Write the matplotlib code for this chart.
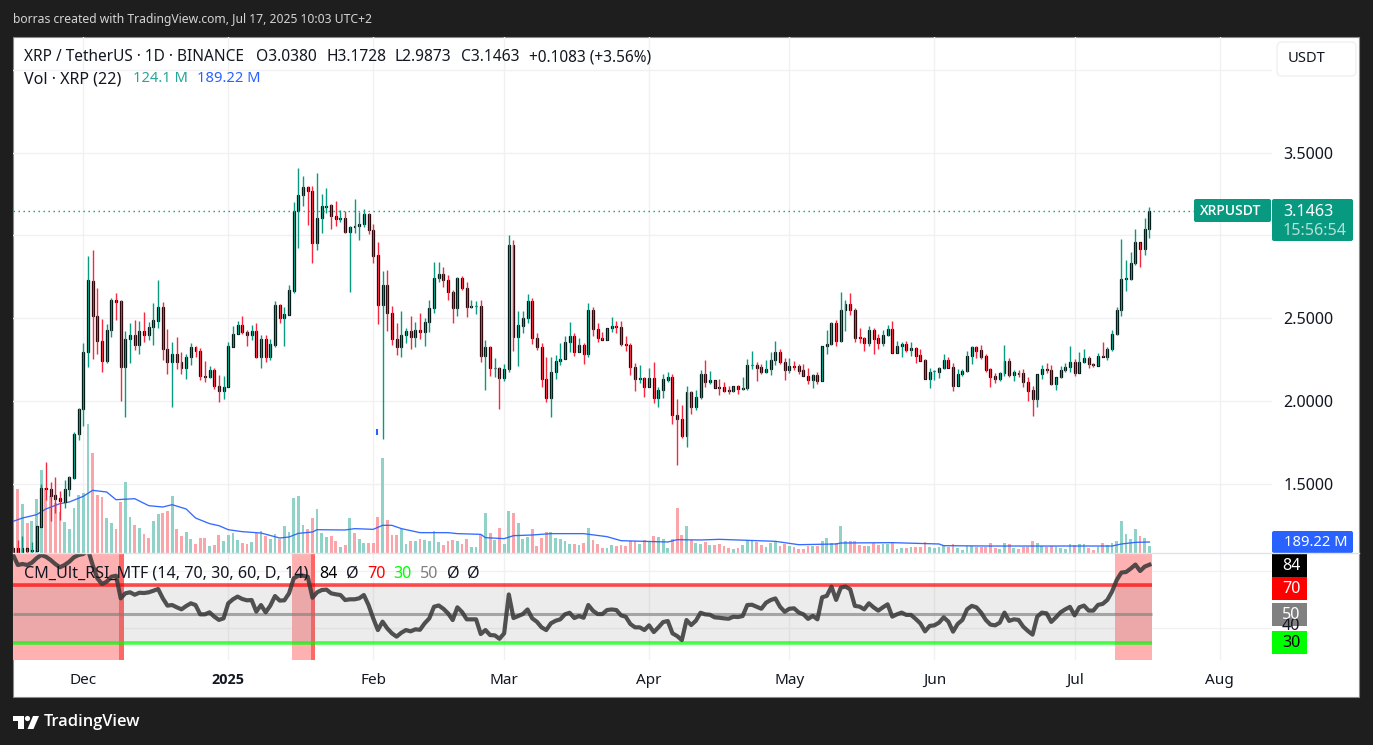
import matplotlib
matplotlib.use("Agg")
import matplotlib.pyplot as plt
import matplotlib.dates as mdates
from matplotlib.patches import Rectangle, FancyBboxPatch, Polygon, Circle
import numpy as np
import pandas as pd

# daily bars, one line per month
dates = pd.date_range("2024-11-16", "2025-07-17", freq="D")

opens = [
    1.118,1.118,1.087,1.114,1.099,1.099,1.244,1.475,1.469,1.433,1.415,1.395,1.469,1.540,1.801,
    1.952,2.295,2.723,2.512,2.361,2.245,2.428,2.608,2.602,2.209,2.373,2.398,2.337,2.422,2.402,2.446,2.486,2.566,2.313,2.239,2.283,2.239,2.203,2.265,2.325,2.301,2.155,2.149,2.189,2.094,2.060,
    2.084,2.329,2.404,2.458,2.420,2.402,2.422,2.269,2.373,2.269,2.341,2.578,2.504,2.522,2.667,3.145,3.245,3.295,3.271,2.956,3.108,3.173,3.181,3.120,3.102,3.108,3.022,3.054,3.058,3.072,3.127,
    3.036,2.880,2.582,2.699,2.530,2.378,2.325,2.398,2.422,2.390,2.428,2.416,2.476,2.560,2.741,2.765,2.729,2.661,2.564,2.741,2.685,2.570,2.572,2.574,2.275,2.325,2.199,2.199,
    2.143,2.193,2.940,2.390,2.456,2.500,2.602,2.384,2.325,2.137,2.022,2.175,2.241,2.253,2.355,2.392,2.295,2.337,2.287,2.548,2.438,2.380,2.372,2.440,2.452,2.450,2.347,2.341,2.209,2.137,2.139,
    2.088,2.139,2.022,2.068,2.131,2.145,1.920,1.896,1.793,2.054,1.968,2.024,2.163,2.118,2.127,2.086,2.084,2.066,2.060,2.090,2.076,2.080,2.217,2.217,2.205,2.179,2.193,2.249,2.295,2.239,
    2.191,2.211,2.211,2.187,2.155,2.131,2.157,2.124,2.333,2.343,2.472,2.365,2.548,2.584,2.552,2.386,2.380,2.353,2.428,2.380,2.353,2.398,2.434,2.293,2.331,2.343,2.311,2.319,2.277,2.247,2.137,
    2.181,2.179,2.199,2.247,2.205,2.094,2.163,2.181,2.271,2.327,2.307,2.271,2.193,2.151,2.137,2.169,2.241,2.161,2.169,2.169,2.118,2.066,2.016,2.163,2.193,2.187,2.106,2.145,2.187,2.205,
    2.235,2.173,2.235,2.259,2.223,2.215,2.271,2.269,2.313,2.404,2.548,2.735,2.739,2.837,2.958,2.920,3.038,
]
highs = [
    1.124,1.164,1.188,1.114,1.152,1.250,1.501,1.634,1.514,1.542,1.461,1.526,1.550,1.817,1.960,
    2.353,2.875,2.912,2.683,2.496,2.466,2.620,2.653,2.610,2.424,2.472,2.490,2.484,2.538,2.478,2.592,2.731,2.598,2.436,2.357,2.388,2.297,2.285,2.351,2.331,2.321,2.243,2.213,2.201,2.159,2.153,
    2.357,2.454,2.484,2.514,2.428,2.460,2.472,2.400,2.400,2.373,2.604,2.586,2.570,2.701,3.201,3.406,3.357,3.297,3.297,3.375,3.249,3.289,3.189,3.207,3.153,3.145,3.060,3.217,3.143,3.157,3.133,
    3.072,2.960,2.785,2.791,2.574,2.474,2.544,2.442,2.514,2.478,2.530,2.500,2.610,2.839,2.839,2.809,2.759,2.671,2.751,2.755,2.719,2.610,2.604,2.610,2.369,2.333,2.261,2.205,
    2.223,3.002,2.972,2.544,2.544,2.647,2.624,2.412,2.349,2.267,2.269,2.279,2.353,2.394,2.478,2.410,2.382,2.349,2.590,2.568,2.470,2.420,2.442,2.508,2.482,2.482,2.394,2.349,2.229,2.219,2.145,
    2.199,2.237,2.084,2.165,2.177,2.165,2.014,1.978,2.092,2.062,2.068,2.189,2.249,2.183,2.129,2.135,2.114,2.092,2.092,2.096,2.147,2.255,2.303,2.235,2.225,2.249,2.297,2.363,2.315,2.259,
    2.259,2.245,2.225,2.225,2.203,2.165,2.179,2.333,2.430,2.480,2.490,2.659,2.610,2.653,2.560,2.442,2.390,2.454,2.444,2.406,2.430,2.460,2.482,2.363,2.357,2.363,2.357,2.325,2.315,2.253,2.203,
    2.189,2.209,2.285,2.265,2.229,2.195,2.197,2.303,2.333,2.333,2.339,2.283,2.199,2.171,2.177,2.339,2.261,2.187,2.189,2.195,2.147,2.094,2.163,2.221,2.229,2.219,2.149,2.213,2.229,2.333,
    2.253,2.297,2.315,2.273,2.230,2.291,2.357,2.329,2.430,2.566,2.978,2.851,2.902,3.038,2.958,3.104,3.173,
]
lows = [
    1.083,1.083,1.087,1.087,1.087,1.095,1.240,1.405,1.278,1.325,1.284,1.357,1.431,1.532,1.767,
    1.851,2.209,2.257,2.285,2.179,2.233,2.390,2.490,2.004,1.908,2.233,2.309,2.287,2.357,2.369,2.339,2.444,2.249,2.165,1.968,2.197,2.167,2.135,2.219,2.269,2.129,2.116,2.139,2.074,1.998,2.016,
    2.084,2.329,2.404,2.406,2.335,2.371,2.263,2.203,2.239,2.249,2.327,2.474,2.335,2.522,2.653,2.926,3.179,3.064,2.833,2.912,3.016,3.133,3.040,3.056,3.080,3.016,2.661,3.012,2.972,3.052,3.008,
    2.835,2.466,1.775,2.424,2.339,2.279,2.269,2.353,2.315,2.329,2.378,2.333,2.420,2.534,2.721,2.691,2.610,2.474,2.516,2.671,2.510,2.560,2.526,2.237,2.068,2.153,2.147,1.956,
    2.124,2.179,2.303,2.213,2.414,2.474,2.345,2.309,2.086,1.996,1.908,2.135,2.217,2.253,2.295,2.273,2.295,2.225,2.269,2.394,2.357,2.369,2.372,2.418,2.412,2.333,2.303,2.159,2.064,2.112,2.028,
    2.088,1.990,1.966,2.020,2.118,1.863,1.618,1.781,1.727,1.924,1.948,2.012,2.086,2.106,2.082,2.038,2.056,2.044,2.056,2.044,2.068,2.068,2.195,2.122,2.163,2.173,2.159,2.219,2.227,2.129,
    2.169,2.189,2.165,2.155,2.104,2.080,2.104,2.124,2.285,2.341,2.333,2.357,2.424,2.520,2.357,2.351,2.303,2.333,2.285,2.315,2.333,2.394,2.289,2.293,2.269,2.299,2.273,2.233,2.245,2.137,2.080,
    2.129,2.143,2.193,2.201,2.064,2.092,2.155,2.175,2.227,2.261,2.255,2.177,2.086,2.108,2.122,2.155,2.149,2.122,2.147,2.088,2.002,1.912,1.968,2.135,2.169,2.098,2.068,2.143,2.175,2.177,
    2.155,2.173,2.229,2.203,2.209,2.213,2.265,2.247,2.305,2.400,2.514,2.667,2.731,2.821,2.809,2.882,2.987,
]
closes = [
    1.087,1.087,1.114,1.099,1.102,1.248,1.477,1.473,1.431,1.413,1.397,1.469,1.542,1.803,1.952,
    2.295,2.729,2.512,2.361,2.245,2.428,2.608,2.600,2.209,2.373,2.398,2.337,2.422,2.402,2.446,2.488,2.566,2.313,2.239,2.283,2.239,2.203,2.265,2.325,2.301,2.155,2.149,2.189,2.094,2.060,2.084,
    2.331,2.404,2.458,2.420,2.402,2.422,2.269,2.373,2.269,2.343,2.578,2.504,2.524,2.669,3.145,3.247,3.295,3.269,2.956,3.108,3.175,3.179,3.120,3.102,3.106,3.022,3.054,3.058,3.072,3.127,3.036,
    2.878,2.582,2.699,2.530,2.378,2.325,2.398,2.422,2.390,2.428,2.416,2.476,2.560,2.741,2.765,2.729,2.661,2.564,2.741,2.685,2.570,2.572,2.574,2.275,2.325,2.199,2.201,2.143,
    2.195,2.940,2.390,2.458,2.500,2.602,2.384,2.325,2.137,2.022,2.175,2.241,2.255,2.355,2.392,2.295,2.337,2.287,2.548,2.438,2.380,2.372,2.440,2.452,2.450,2.347,2.341,2.209,2.137,2.139,2.088,
    2.139,2.022,2.068,2.133,2.145,1.920,1.896,1.793,2.054,1.968,2.024,2.163,2.118,2.127,2.082,2.082,2.064,2.064,2.090,2.076,2.082,2.217,2.217,2.203,2.179,2.193,2.249,2.295,2.239,2.191,
    2.211,2.209,2.183,2.155,2.131,2.157,2.124,2.333,2.343,2.472,2.365,2.548,2.584,2.552,2.384,2.384,2.353,2.428,2.378,2.353,2.398,2.434,2.293,2.331,2.343,2.311,2.319,2.275,2.245,2.137,2.175,
    2.183,2.199,2.247,2.201,2.094,2.163,2.181,2.271,2.327,2.305,2.269,2.189,2.149,2.137,2.169,2.241,2.161,2.177,2.167,2.118,2.064,2.016,2.163,2.195,2.191,2.106,2.145,2.187,2.205,2.235,
    2.173,2.235,2.259,2.223,2.221,2.271,2.269,2.313,2.404,2.548,2.735,2.741,2.837,2.958,2.920,3.042,3.146,
]

# volume in millions of XRP
volumes = [
    0,1101,843,516,550,929,1428,1118,980,860,705,533,413,774,998,
    1032,2219,1720,998,963,602,516,413,877,1221,619,482,430,327,258,550,671,688,722,980,413,292,361,241,155,258,258,120,138,310,206,
    310,344,224,172,155,189,344,378,292,241,327,241,464,361,946,980,482,413,602,757,344,275,292,206,103,138,602,344,241,172,172,
    172,619,1634,568,310,310,413,155,206,206,241,224,206,378,189,138,206,224,206,155,241,103,103,310,688,344,224,430,
    155,722,688,516,241,275,413,120,258,361,361,258,241,206,155,155,138,172,430,224,155,86,86,138,120,138,120,206,206,155,224,
    189,292,275,241,86,241,774,310,464,224,172,155,189,138,138,155,120,86,69,86,138,206,206,189,138,103,172,189,120,155,
    120,103,69,69,120,120,120,206,258,172,172,464,206,206,206,138,120,120,172,138,155,155,189,69,86,86,103,103,103,189,103,
    86,103,138,103,155,86,52,120,120,103,103,103,172,86,69,172,155,86,69,103,103,206,172,120,103,120,103,86,69,155,
    138,155,155,86,52,103,172,138,172,206,550,327,241,413,292,258,124,
]
volume_dir = (
    "grgrgggrrrrgggg"
    "ggrrrggrrggrgrrggrrgrrggrrrgrrg"
    "gggrrgrgrggrgggggrrgggrrgrgrggr"
    "rrgrrrggrgrggggrrrgrrggrgrgr"
    "ggrgggrrrrgggggrgrgrrrggrrrrrgr"
    "grgggrrrgrggrgrrrrgrgggrrgggrr"
    "grrrrgrgggrggrrrrgrrggrggrgrrrg"
    "gggrrggggrrrrrggrgrrrrggrrgggg"
    "rggrrgrgggggggrgg"
)

# volume average, points read where the line bends
ma_dates = ["2024-11-16","2024-11-18","2024-11-21","2024-11-23","2024-11-26","2024-11-28","2024-12-01","2024-12-03",
            "2024-12-06","2024-12-08","2024-12-12","2024-12-15","2024-12-18","2024-12-20","2024-12-23","2024-12-25",
            "2024-12-28","2024-12-30","2025-01-01","2025-01-04","2025-01-08","2025-01-12","2025-01-14","2025-01-16",
            "2025-01-19","2025-01-20","2025-01-26","2025-01-28","2025-02-01","2025-02-03","2025-02-05","2025-02-07",
            "2025-02-11","2025-02-17","2025-02-19","2025-02-24","2025-02-25","2025-03-01","2025-03-03","2025-03-07",
            "2025-03-11","2025-03-18","2025-03-23","2025-03-26","2025-04-05","2025-04-07","2025-04-12","2025-04-16",
            "2025-04-28","2025-05-01","2025-05-03","2025-05-11","2025-05-12","2025-05-23","2025-06-02","2025-06-03",
            "2025-06-13","2025-06-28","2025-07-09","2025-07-11","2025-07-14","2025-07-17"]
ma_values = [545,602,659,757,849,877,975,1078,
             1049,917,934,814,791,831,757,602,
             505,470,401,367,344,258,275,338,
             361,401,396,419,407,476,476,420,
             350,350,333,321,264,247,298,310,
             333,333,281,212,189,229,224,235,
             201,166,143,155,172,178,155,126,
             120,120,120,155,183,189]

rsi = [
    91.2,84.2,84.9,84.2,85.8,88.9,91.2,90.0,87.7,84.9,82.6,84.2,86.5,89.6,91.2,
    91.9,95.0,84.2,74.9,70.9,72.5,76.0,76.7,60.9,64.4,65.1,63.4,64.8,64.6,65.1,66.2,67.4,60.9,55.8,56.2,54.6,53.2,55.5,57.4,56.2,49.7,49.7,51.1,48.1,45.8,46.9,
    57.4,60.2,62.1,60.4,59.5,59.7,51.6,56.2,51.1,55.8,62.5,59.3,59.5,64.4,74.9,76.7,76.7,76.0,61.3,65.1,66.7,67.0,64.4,63.7,63.2,59.7,60.2,60.2,60.9,63.2,56.2,
    46.9,38.7,44.6,39.9,36.4,34.1,36.8,38.7,37.8,39.2,38.9,43.4,46.9,55.0,55.9,53.6,50.4,45.7,54.6,51.3,46.2,46.2,46.2,35.9,38.7,35.2,35.0,32.6,
    36.4,63.6,47.1,48.5,49.9,53.1,46.9,44.5,40.6,38.7,43.4,45.2,46.2,49.7,50.8,47.1,48.5,47.3,56.2,52.2,49.9,49.9,52.7,53.1,52.7,49.0,48.0,42.9,40.6,40.6,38.7,
    42.0,37.3,40.6,44.3,45.0,36.4,34.5,31.7,45.7,42.2,45.2,50.8,49.7,49.4,47.6,47.3,46.9,46.6,48.0,47.8,48.5,56.2,56.4,55.0,53.6,57.8,59.7,60.8,55.0,51.5,
    53.6,53.9,51.0,49.7,46.5,48.6,46.2,61.6,62.6,69.1,59.8,68.4,69.1,67.2,55.6,55.1,53.2,57.4,54.6,52.3,54.6,56.7,48.1,49.7,50.9,49.3,49.3,46.5,43.4,37.8,41.6,
    42.0,43.9,47.6,44.6,37.6,43.0,45.8,53.2,55.6,54.6,50.9,45.8,42.5,42.0,43.9,50.9,45.1,46.2,45.8,41.1,38.1,35.5,48.1,50.9,50.4,44.4,47.6,51.1,53.2,54.9,
    49.0,54.6,55.8,52.3,52.3,56.3,57.0,59.8,65.6,73.7,78.9,79.3,81.7,84.5,80.0,83.1,84.4,
]

# overbought windows behind the RSI
ob_zones = [("2024-11-15", "2024-12-08"), ("2025-01-15", "2025-01-18"), ("2025-07-10", "2025-07-17")]
ob_cross = ["2024-12-09", "2025-01-19"]

price_ticks = [1.5, 2.0, 2.5, 3.0, 3.5, 4.0]
price_labels = ["1.5000", "2.0000", "2.5000", "", "3.5000", ""]
month_ticks = ["2024-12-01","2025-01-01","2025-02-01","2025-03-01","2025-04-01","2025-05-01","2025-06-01","2025-07-01","2025-08-01"]
month_labels = ["Dec","2025","Feb","Mar","Apr","May","Jun","Jul","Aug"]

TEAL = "#089981"
RED = "#f7273f"
BLUE = "#2962ff"
GRID = "#f1f1f3"
INK = "#131722"
FONT = "Noto Sans"
BOLD_FONT = "Open Sans"

W, H = 1373, 745
plt.rcParams["font.family"] = [FONT, "DejaVu Sans"]


def px_rect(left, top, right, bottom):
    return [left / W, 1 - bottom / H, (right - left) / W, (bottom - top) / H]


def label_box(ax, left, top, right, bottom, color):
    ax.add_patch(FancyBboxPatch((left + 1.5, top + 1.5), right - left - 3, bottom - top - 3,
                                boxstyle="round,pad=1.5,rounding_size=2", fc=color, ec="none"))


fig = plt.figure(figsize=(W / 100, H / 100), dpi=100, facecolor="#1e1e1e")

x = mdates.date2num(dates)
xlim = mdates.date2num(pd.to_datetime(["2024-11-15 23:15", "2025-08-12 05:00"]))
month_x = mdates.date2num(pd.to_datetime(month_ticks))
o, h, l, c = map(np.array, (opens, highs, lows, closes))
assert len(x) == len(o) == len(h) == len(l) == len(c) == len(volumes) == len(volume_dir) == len(rsi)

# page furniture under the chart
base = fig.add_axes([0, 0, 1, 1], zorder=0)
base.set_xlim(0, W)
base.set_ylim(H, 0)
base.axis("off")
base.add_patch(Rectangle((13, 37), 1346, 660, fc="white", ec="#8a8a8a", lw=0.8))
base.text(13, 20, "borras created with TradingView.com, Jul 17, 2025 10:03 UTC+2", color="#d4d4d4",
          fontsize=8.75, va="center")

# price grid
ax_grid = fig.add_axes(px_rect(13, 37, 1272, 553), zorder=1)
ax_grid.set_xlim(*xlim)
ax_grid.set_ylim(1.085, 4.197)
ax_grid.set_xticks(month_x)
ax_grid.set_yticks(price_ticks)
ax_grid.grid(True, color=GRID, lw=1.0)
ax_grid.set_axisbelow(True)
ax_grid.tick_params(length=0, labelleft=False, labelbottom=False)
ax_grid.patch.set_visible(False)
for s in ax_grid.spines.values():
    s.set_visible(False)

# volume
ax_vol = fig.add_axes(px_rect(13, 37, 1272, 553), zorder=2, sharex=ax_grid)
ax_vol.set_ylim(0, 516 * 17.2)
vol_colors = ["#90d2c7" if d == "g" else "#f9a5a9" for d in volume_dir]
ax_vol.bar(x, volumes, width=0.6, color=vol_colors, linewidth=0)
ax_vol.plot(mdates.date2num(pd.to_datetime(ma_dates)), ma_values, color=BLUE, lw=0.95, alpha=0.95)
ax_vol.axis("off")

# candles
ax_price = fig.add_axes(px_rect(13, 37, 1272, 553), zorder=3, sharex=ax_grid, sharey=ax_grid)
ax_price.patch.set_visible(False)
up = c >= o
ax_price.vlines(x, l, h, colors=[TEAL if u else RED for u in up], lw=1.0)
ax_price.bar(x, np.maximum(np.abs(c - o), 0.004), bottom=np.minimum(o, c), width=0.42,
             color=[TEAL if u else RED for u in up], edgecolor="black", linewidth=0.9)
ax_price.axhline(closes[-1], color=TEAL, lw=1.0, ls=(0, (1, 2.6)))
# stray volume-average mark sitting under the Feb 3 wick
ax_price.vlines(mdates.date2num(pd.Timestamp("2025-02-02")) - 0.2, 1.797, 1.831, color=BLUE, lw=1.5)
ax_price.yaxis.tick_right()
ax_price.set_yticks(price_ticks, price_labels)
ax_price.tick_params(axis="y", length=0, pad=8, labelsize=11.6, labelcolor=INK)
ax_price.tick_params(axis="x", length=0, labelbottom=False)
for s in ax_price.spines.values():
    s.set_visible(False)

# RSI pane
ax_rsi = fig.add_axes(px_rect(13, 553, 1272, 660), zorder=4)
ax_rsi.patch.set_visible(False)
ax_rsi.set_xlim(*xlim)
ax_rsi.set_ylim(50 - (660 - 613.9) / 1.43, 50 + (613.9 - 553) / 1.43)
ax_rsi.set_xticks(month_x)
ax_rsi.set_yticks([40, 80])
ax_rsi.grid(True, color=GRID, lw=1.0)
ax_rsi.set_axisbelow(True)
ax_rsi.tick_params(length=0, labelleft=False, labelbottom=False)
for s in ax_rsi.spines.values():
    s.set_visible(False)
last_x = x[-1] + 0.6
for start, end in ob_zones:
    ax_rsi.axvspan(mdates.date2num(pd.Timestamp(start)) - 0.4, mdates.date2num(pd.Timestamp(end)) + 0.6,
                   color="#ffb0b0", lw=0, zorder=1)
for day in ob_cross:
    ax_rsi.axvspan(mdates.date2num(pd.Timestamp(day)) - 0.4, mdates.date2num(pd.Timestamp(day)) + 0.6,
                   color="#ff6666", lw=0, zorder=1)
ax_rsi.fill_between([xlim[0], last_x], 30, 70, color="#808080", alpha=0.15, lw=0, zorder=2)
ax_rsi.hlines(70, xlim[0], last_x, color="#ff0000", alpha=0.7, lw=2.6, zorder=3)
ax_rsi.hlines(50, xlim[0], last_x, color="#808080", alpha=0.65, lw=2.2, zorder=3)
ax_rsi.hlines(30, xlim[0], last_x, color="#00ff00", alpha=0.7, lw=2.6, zorder=3)
ax_rsi.plot(x, rsi, color="#3a3a3a", alpha=0.88, lw=3.0, solid_joinstyle="round", zorder=4)

# separator, labels, boxes
over = fig.add_axes([0, 0, 1, 1], zorder=6)
over.set_xlim(0, W)
over.set_ylim(H, 0)
over.axis("off")
over.plot([13, 1359], [553, 553], color="#e0e3eb", lw=1.0)

for mx, label in zip(month_x, month_labels):
    px = (mx - xlim[0]) / (xlim[1] - xlim[0]) * (1272 - 13) + 13
    if label == "2025":
        over.text(px, 680, label, ha="center", va="center", fontsize=10.4, color=INK,
                  family=BOLD_FONT, fontweight="bold")
    else:
        over.text(px, 680, label, ha="center", va="center", fontsize=11, color=INK)

over.text(24, 57, "XRP / TetherUS · 1D · BINANCE", fontsize=11.1, color=INK, va="center")
over.text(256, 57, "O3.0380", fontsize=11.2, color=INK, va="center")
over.text(326, 57, "H3.1728", fontsize=11.2, color=INK, va="center")
over.text(395, 57, "L2.9873", fontsize=11.2, color=INK, va="center")
over.text(461, 57, "C3.1463", fontsize=11.2, color=INK, va="center")
over.text(529, 57, "+0.1083 (+3.56%)", fontsize=11.1, color=INK, va="center")
over.text(24, 79, "Vol · XRP (22)", fontsize=11.6, color=INK, va="center")
over.text(133, 79, "124.1 M", fontsize=10.6, color="#26a69a", va="center")
over.text(197, 79, "189.22 M", fontsize=10.6, color=BLUE, va="center")

over.text(24, 574, "CM_Ult_RSI_MTF (14, 70, 30, 60, D, 14)", fontsize=11.6, color=INK, va="center")
over.text(319, 574, "84", fontsize=11.6, color="black", va="center")
over.text(346, 574, "Ø", fontsize=11.6, color=INK, va="center")
over.text(367, 574, "70", fontsize=11.6, color="#ff0000", va="center")
over.text(393, 574, "30", fontsize=11.6, color="#00ff00", va="center")
over.text(420, 574, "50", fontsize=11.6, color="#808080", va="center")
over.text(447, 574, "Ø", fontsize=11.6, color=INK, va="center")
over.text(467, 574, "Ø", fontsize=11.6, color=INK, va="center")

over.add_patch(FancyBboxPatch((1278, 43), 77, 32, boxstyle="round,pad=1,rounding_size=5",
                              fc="white", ec="#f0f0f0", lw=1))
over.text(1288, 58.5, "USDT", fontsize=10.6, color=INK, va="center")

label_box(over, 1194, 199, 1271, 222, TEAL)
over.text(1200, 211, "XRPUSDT", fontsize=10, color="white", family=BOLD_FONT, fontweight="semibold", va="center")
label_box(over, 1272, 199, 1353, 241, TEAL)
over.text(1283, 212, "3.1463", fontsize=11.6, color="white", va="center")
over.text(1283, 231, "15:56:54", fontsize=11.6, color="#b5e0d8", va="center")

label_box(over, 1272, 531, 1353, 553, BLUE)
over.text(1284, 543, "189.22 M", fontsize=10.6, color="white", va="center")

over.text(1291, 626, "40", fontsize=11.6, color=INK, ha="center", va="center")
rsi_boxes = [("84", 554, 577, "black", "white"), ("70", 577, 600, "#ff0000", "white"),
             ("50", 603, 626, "#808080", "white"), ("30", 631, 654, "#00ff00", "black")]
for label, top, bottom, fc, tc in rsi_boxes:
    over.add_patch(Rectangle((1272, top), 35, bottom - top, fc=fc, ec="none"))
    over.text(1291, (top + bottom) / 2 + 0.5, label, fontsize=11.6, color=tc, ha="center", va="center")

# logo and wordmark
over.add_patch(Polygon([(13, 716), (24, 716), (24, 729), (18, 729), (18, 721), (13, 721)], fc="white", ec="none"))
over.add_patch(Circle((27.5, 718.5), 2.6, fc="white", ec="none"))
over.add_patch(Polygon([(33, 716), (39, 716), (33.5, 729), (27.5, 729)], fc="white", ec="none"))
over.text(44, 722, "TradingView", fontsize=11.8, color="white", family=BOLD_FONT, fontweight="semibold", va="center")

fig.savefig("out.png", dpi=100, facecolor=fig.get_facecolor())
